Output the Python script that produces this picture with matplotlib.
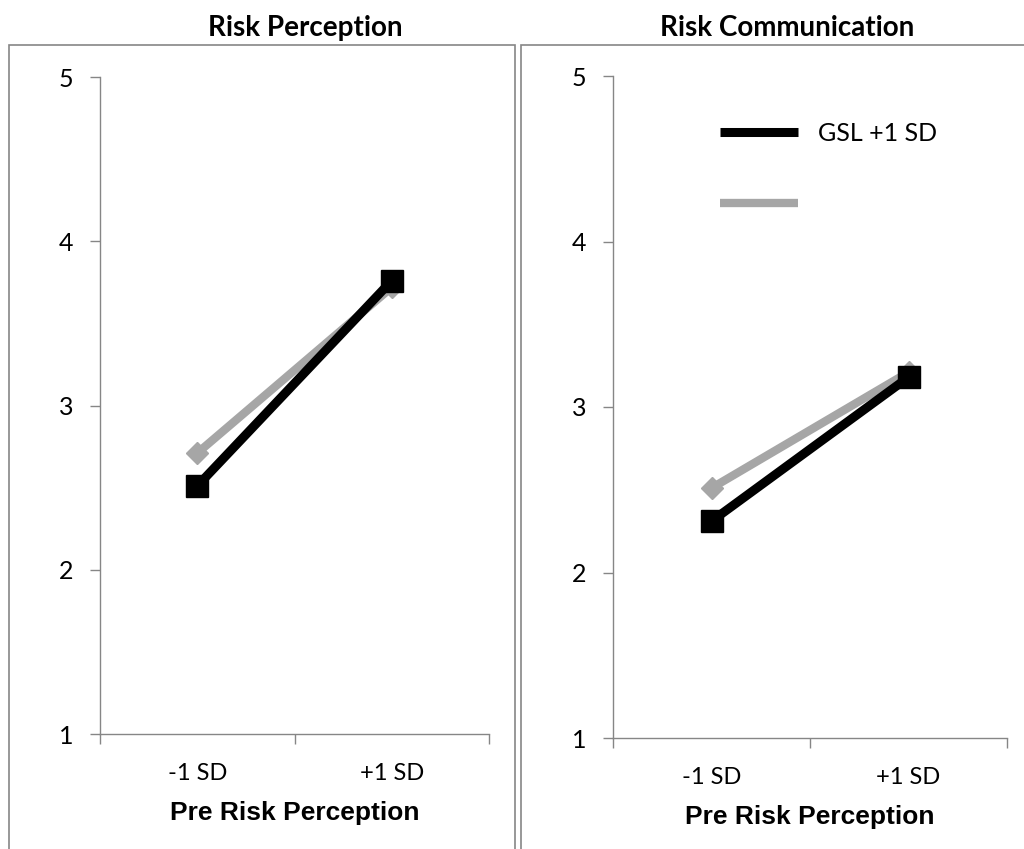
import matplotlib.pyplot as plt
from matplotlib.lines import Line2D
from matplotlib.patches import Rectangle

# data
groups = ['-1 SD', '+1 SD']
panel_titles = ['Risk Perception', 'Risk Communication']
xlabel = 'Pre Risk Perception'
# black series (GSL +1 SD) and gray series (unlabelled)
perception_black = [2.51, 3.76]
perception_gray = [2.71, 3.72]
communication_black = [2.31, 3.18]
communication_gray = [2.51, 3.21]
legend_labels = ['GSL +1 SD', ' ']

BLACK = '#000000'
GRAY = '#A6A6A6'
AXIS = '#868686'

fig = plt.figure(figsize=(10.24, 8.49), dpi=100)

# panel frames (figure pixels -> fraction)
W, H = 1024.0, 849.0
for x0, x1 in [(9, 515), (521, 1030)]:
    fig.patches.append(Rectangle((x0 / W, -0.1), (x1 - x0) / W, (H - 45) / H + 0.1,
                                 transform=fig.transFigure, fill=False,
                                 edgecolor=AXIS, linewidth=1.2))

ax1 = fig.add_axes([100 / W, (H - 734) / H, 389 / W, 657 / H])
ax2 = fig.add_axes([613 / W, (H - 738) / H, 394 / W, 662 / H])

series = [(ax1, perception_black, perception_gray),
          (ax2, communication_black, communication_gray)]

xpos = [0.5, 1.5]
for ax, blk, gry in series:
    ax.plot(xpos, gry, color=GRAY, lw=6, marker='D', markersize=11,
            markeredgecolor=GRAY, solid_capstyle='butt', zorder=2)
    ax.plot(xpos, blk, color=BLACK, lw=6.5, marker='s', markersize=16,
            markeredgecolor=BLACK, solid_capstyle='butt', zorder=3)
    ax.set_xlim(0, 2)
    ax.set_ylim(1, 5)
    ax.set_yticks([1, 2, 3, 4, 5])
    ax.set_xticks([0, 1, 2])
    ax.set_xticklabels([])
    ax.set_xticks(xpos, minor=True)
    ax.set_xticklabels(groups, minor=True, fontsize=17, family='Lato')
    ax.tick_params(axis='x', which='minor', length=0, pad=21)
    ax.tick_params(axis='x', which='major', direction='out', length=7,
                   color=AXIS, width=1)
    ax.tick_params(axis='y', direction='out', length=7, color=AXIS, width=1,
                   labelsize=18, pad=12)
    for lab in ax.get_yticklabels():
        lab.set_family('Lato')
    for s in ['top', 'right']:
        ax.spines[s].set_visible(False)
    for s in ['left', 'bottom']:
        ax.spines[s].set_color(AXIS)
        ax.spines[s].set_linewidth(1)
    ax.set_xlabel(xlabel, fontsize=19, fontweight='bold',
                  family='Liberation Sans', labelpad=12)

# panel titles
fig.text(305 / W, 1 - 28 / H, panel_titles[0], ha='center', va='center',
         fontsize=20, fontweight='bold', family='Lato')
fig.text(787 / W, 1 - 28 / H, panel_titles[1], ha='center', va='center',
         fontsize=20, fontweight='bold', family='Lato')

handles = [Line2D([], [], color=BLACK, lw=6.5, solid_capstyle='butt'),
           Line2D([], [], color=GRAY, lw=6, solid_capstyle='butt')]
ax2.legend(handles, legend_labels, loc='upper left',
           bbox_to_anchor=(720 / W, 1 - 122 / H), bbox_transform=fig.transFigure,
           frameon=False, handlelength=3.1, handletextpad=0.8,
           labelspacing=1.9, borderaxespad=0, borderpad=0,
           prop={'family': 'Lato', 'size': 18})

fig.savefig('out.png', dpi=100)
